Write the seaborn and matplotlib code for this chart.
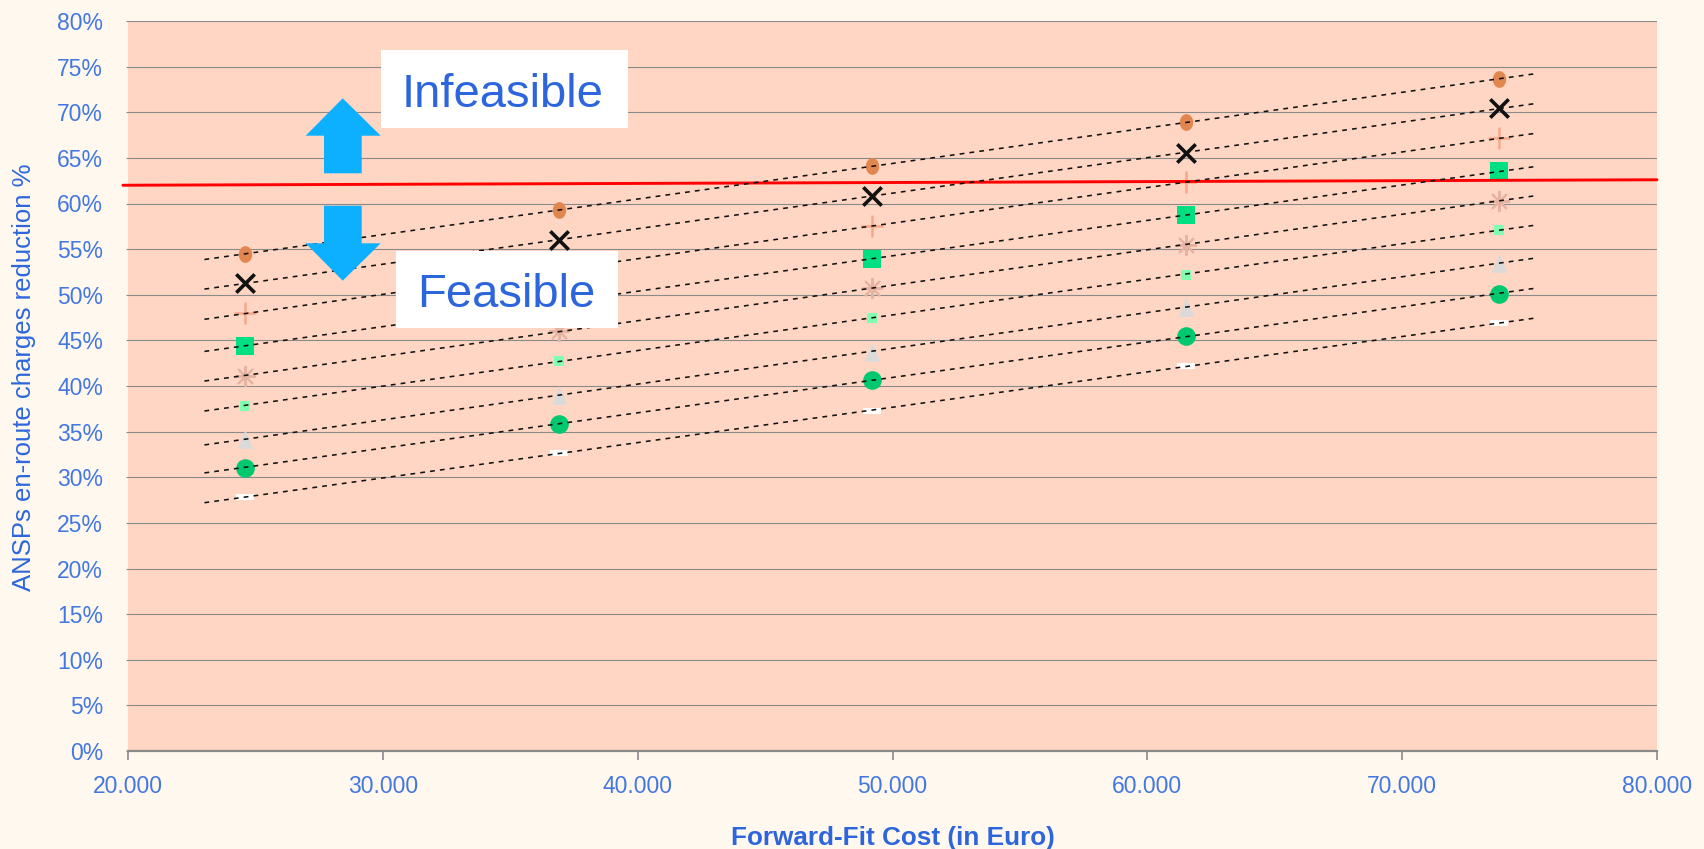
import numpy as np
import pandas as pd
import matplotlib
matplotlib.use("Agg")
import matplotlib.pyplot as plt
from matplotlib.patches import Polygon, Rectangle
from matplotlib.path import Path
from matplotlib.ticker import FuncFormatter, MultipleLocator
import seaborn as sns

# Forward-fit cost scenarios (Euro)
cost = [24600, 36900, 49200, 61500, 73800]

# En-route charge reduction (%) for each scenario family
orange_dot = [54.46, 59.32, 64.07, 68.89, 73.65]
black_cross = [51.28, 56.03, 60.78, 65.54, 70.47]
salmon_plus = [47.99, 52.70, 57.49, 62.31, 67.18]
green_square = [44.41, 49.20, 53.95, 58.70, 63.52]
pink_star = [41.15, 45.98, 50.73, 55.48, 60.31]
mint_box = [37.86, 42.76, 47.44, 52.19, 57.13]
grey_triangle = [34.21, 38.96, 43.78, 48.65, 53.48]
green_circle = [31.06, 35.86, 40.68, 45.43, 50.11]
white_bar = [27.82, 32.64, 37.31, 42.14, 46.90]

# Feasibility threshold
limit_x = [19800, 80000]
limit_y = [62.0, 62.6]

# Range covered by the linear trend lines
trend_span = [23000, 75200]

x_ticks = [20000, 30000, 40000, 50000, 60000, 70000, 80000]

W, H, DPI = 1704, 849, 100
BLUE = "#2d66dc"
TICK_BLUE = "#4377e2"
GRID = "#8a8a8a"

sns.set_style("white")
plt.rcParams["font.family"] = ["Liberation Sans", "DejaVu Sans"]

fig = plt.figure(figsize=(W / DPI, H / DPI), dpi=DPI, facecolor="#FFF8EE")
ax = fig.add_axes([128 / W, 1 - 751 / H, (1657 - 128) / W, (751 - 21) / H])
ax.set_facecolor("#FFD6C3")


def closed_path(points):
    codes = [Path.MOVETO] + [Path.LINETO] * (len(points) - 1) + [Path.CLOSEPOLY]
    return Path(list(points) + [points[0]], codes)


# Custom marker shapes
t = np.linspace(0, 2 * np.pi, 40, endpoint=False)
tall_dot = closed_path(list(zip(0.8 * np.cos(t), np.sin(t))))
tall_triangle = closed_path([(0, 1), (-0.84, -1), (0.84, -1)])
bar_marker = closed_path([(-1, -0.38), (1, -0.38), (1, 0.38), (-1, 0.38)])
star8 = (8, 2, 0)

series = [
    (orange_dot, dict(marker=tall_dot, s=145, color="#E2864F", linewidth=0)),
    (black_cross, dict(marker="x", s=175, color="#111111", linewidth=2.6)),
    (salmon_plus, dict(marker="+", s=260, color="#F8A88A", linewidth=1.8)),
    (green_square, dict(marker="s", s=165, color="#00E082", linewidth=0)),
    (pink_star, dict(marker=star8, s=190, color="#E6B3A2", edgecolor="#E6B3A2", linewidth=1.6)),
    (mint_box, dict(marker="s", s=60, color="#80FFB0", linewidth=0)),
    (grey_triangle, dict(marker=tall_triangle, s=180, color="#DADADA", linewidth=0)),
    (green_circle, dict(marker="o", s=180, color="#00C86E", linewidth=0)),
    (white_bar, dict(marker=bar_marker, s=165, color="white", linewidth=0)),
]

for values, style in series:
    sns.scatterplot(x=cost, y=values, ax=ax, zorder=2, legend=False, **style)

# Red threshold line
sns.lineplot(x=limit_x, y=limit_y, ax=ax, color="#FF0000", linewidth=2.1,
             zorder=3, clip_on=False, legend=False)

# Linear trend lines through each series
span = np.array(trend_span, dtype=float)
for values, _ in series:
    slope, intercept = np.polyfit(cost, values, 1)
    trend = pd.DataFrame({"x": span, "y": slope * span + intercept})
    sns.lineplot(data=trend, x="x", y="y", ax=ax, color="#111111", linewidth=1.15,
                 linestyle=(0, (3.0, 3.2)), zorder=4, legend=False)

ax.set_xlim(20000, 80000)
ax.set_ylim(0, 80)
ax.set_xticks(x_ticks)
ax.xaxis.set_major_formatter(FuncFormatter(lambda v, p: f"{int(v):,}".replace(",", ".")))
ax.yaxis.set_major_locator(MultipleLocator(5))
ax.yaxis.set_major_formatter(FuncFormatter(lambda v, p: f"{v:.0f}%"))

ax.set_axisbelow(True)
ax.yaxis.grid(True, color=GRID, linewidth=0.8)
ax.xaxis.grid(False)
for side in ("left", "top", "right"):
    ax.spines[side].set_visible(False)
ax.spines["bottom"].set_color(GRID)
ax.spines["bottom"].set_linewidth(1.6)

ax.tick_params(axis="y", length=1.5, width=0.8, color=GRID, pad=16.5,
               labelsize=16.5, labelcolor=TICK_BLUE, left=True)
ax.tick_params(axis="x", length=6.5, width=1.2, color=GRID, pad=11,
               labelsize=16.5, labelcolor=TICK_BLUE, bottom=True, direction="out")

ax.set_xlabel("")
ax.set_ylabel("ANSPs en-route charges reduction %", fontsize=18.5, color=BLUE)
ax.yaxis.label.set_va("center")
ax.yaxis.set_label_coords((24 - 128) / (1657 - 128), (751 - 377.6) / (751 - 21))

fig.text(892.5 / W, 1 - 844.6 / H, "Forward-Fit Cost (in Euro)",
         ha="center", va="baseline", fontsize=18.8, fontweight="bold", color=BLUE)


def fig_xy(px, py):
    return (px / W, 1 - py / H)


# Arrows marking the feasible / infeasible regions
arrow_color = "#0CB0FF"
up = [(342.7, 98.3), (380.7, 135.7), (361.7, 135.7), (361.7, 173.3),
      (324.0, 173.3), (324.0, 135.7), (305.7, 135.7)]
down = [(324.0, 205.7), (361.7, 205.7), (361.7, 243.3), (380.7, 243.3),
        (342.7, 280.7), (305.7, 243.3), (324.0, 243.3)]
for shape in (up, down):
    fig.add_artist(Polygon([fig_xy(*p) for p in shape], closed=True,
                           transform=fig.transFigure, facecolor=arrow_color,
                           edgecolor="none", zorder=6))

# Region labels on white boxes
boxes = [("Infeasible", (381, 50, 628, 128), 502.8, 106.7),
         ("Feasible", (396, 251, 618, 328), 505.8, 307.3)]
for label, (x0, y0, x1, y1), tx, ty in boxes:
    fx, fy = fig_xy(x0, y1)
    fig.add_artist(Rectangle((fx, fy), (x1 - x0) / W, (y1 - y0) / H,
                             transform=fig.transFigure, facecolor="white",
                             edgecolor="none", zorder=6))
    fig.text(*fig_xy(tx, ty), label, ha="center", va="baseline", fontsize=34,
             color=BLUE, zorder=7)

fig.savefig("out.png", dpi=DPI, facecolor=fig.get_facecolor())
